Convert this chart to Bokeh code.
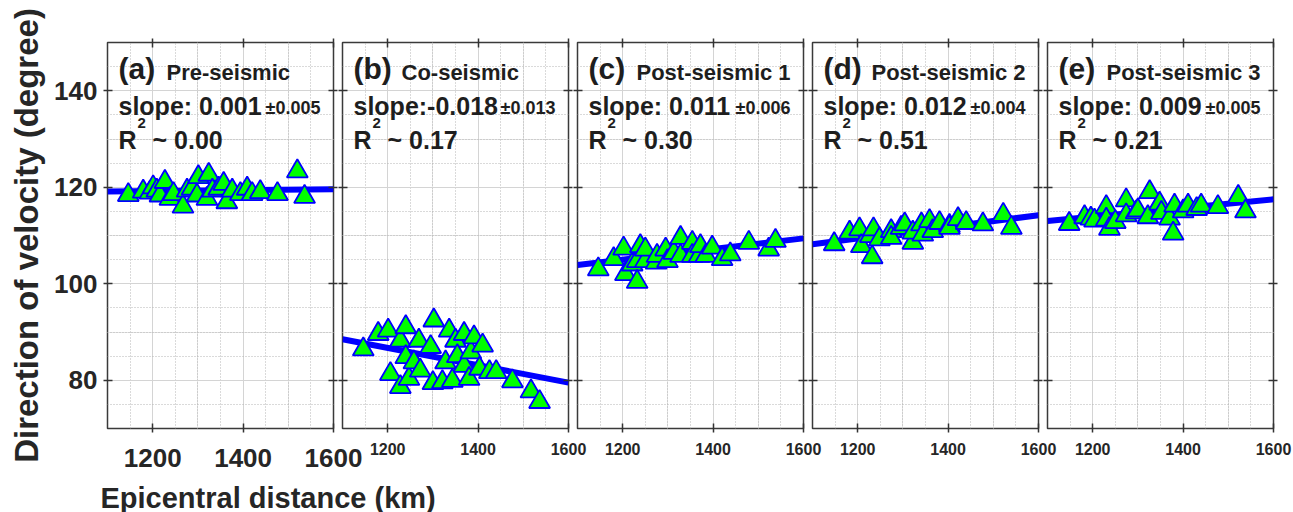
from bokeh.plotting import figure
from bokeh.layouts import row, column
from bokeh.models import FixedTicker, LinearAxis, Label, Range1d, Grid, ColumnDataSource
from bokeh.embed import file_html
from bokeh.resources import INLINE

# ---------------- data ----------------
panel_letters = ["(a)", "(b)", "(c)", "(d)", "(e)"]
panel_names = ["Pre-seismic", "Co-seismic", "Post-seismic 1", "Post-seismic 2", "Post-seismic 3"]
slope_texts = ["slope: 0.001", "slope:-0.018", "slope: 0.011", "slope: 0.012", "slope: 0.009"]
err_texts = ["\u00b10.005", "\u00b10.013", "\u00b10.006", "\u00b10.004", "\u00b10.005"]
r2_texts = ["~ 0.00", "~ 0.17", "~ 0.30", "~ 0.51", "~ 0.21"]
fit_slopes = [0.001, -0.018, 0.011, 0.012, 0.009]
fit_at_start = [119.1, 88.5, 103.9, 108.2, 113.0]

x_ticks = [1200, 1400, 1600]
y_ticks = [80, 100, 120, 140]
x_minor = [1100, 1150, 1250, 1300, 1350, 1450, 1500, 1550]
y_minor = [70, 75, 85, 90, 95, 105, 110, 115, 125, 130, 135, 145, 150]

dist_a = [1146, 1179, 1194, 1201, 1209, 1216, 1227, 1238, 1246, 1267, 1276, 1287, 1298, 1301,
          1320, 1324, 1332, 1346, 1357, 1364, 1376, 1394, 1409, 1420, 1438, 1476, 1520, 1536]
dir_a = [118.4, 119.1, 118.9, 120.0, 119.3, 118.3, 121.1, 117.6, 118.6, 116.0, 119.3, 119.7, 118.3, 122.1,
         117.6, 122.6, 119.3, 119.7, 120.7, 116.9, 119.3, 118.6, 119.7, 118.6, 119.0, 118.6, 123.3, 118.0]

dist_b = [1146, 1179, 1201, 1206, 1228, 1228, 1240, 1240, 1247, 1258, 1269, 1272, 1295, 1300, 1302,
          1321, 1328, 1336, 1343, 1350, 1354, 1369, 1369, 1380, 1384, 1391, 1403, 1410, 1425, 1440,
          1476, 1517, 1536]
dir_b = [86.4, 89.6, 90.3, 81.3, 88.2, 78.6, 91.0, 84.8, 80.3, 83.7, 88.2, 82.0, 86.9, 79.4, 92.4,
         79.6, 83.7, 90.3, 79.9, 88.2, 85.0, 89.6, 83.0, 80.3, 85.8, 88.9, 82.4, 87.2, 81.7, 81.7,
         79.8, 77.7, 75.5]

dist_c = [1146, 1180, 1202, 1206, 1221, 1232, 1232, 1239, 1250, 1250, 1274, 1276, 1295, 1299,
          1313, 1328, 1328, 1354, 1354, 1369, 1372, 1384, 1398, 1420, 1438, 1479, 1523, 1538]
dir_c = [103.0, 105.1, 107.3, 102.0, 104.0, 100.4, 104.7, 107.8, 104.7, 107.1, 104.4, 105.8, 107.1, 104.7,
         106.4, 109.5, 105.8, 108.5, 105.8, 105.8, 107.8, 105.8, 107.5, 105.1, 106.1, 108.5, 107.1, 108.9]

dist_d = [1148, 1182, 1204, 1208, 1228, 1232, 1235, 1248, 1274, 1274, 1296, 1304, 1322, 1322,
          1341, 1344, 1359, 1366, 1381, 1403, 1403, 1422, 1440, 1477, 1522, 1540]
dir_d = [108.2, 110.6, 111.3, 107.8, 109.9, 105.5, 111.3, 109.2, 110.9, 109.5, 111.6, 112.3, 108.5, 110.6,
         112.3, 110.2, 113.0, 110.9, 112.6, 112.0, 111.6, 113.4, 112.6, 112.3, 114.3, 111.6]

dist_e = [1148, 1182, 1196, 1204, 1230, 1230, 1237, 1250, 1274, 1274, 1296, 1300, 1322, 1326,
          1348, 1352, 1370, 1378, 1381, 1400, 1411, 1430, 1440, 1477, 1522, 1538]
dir_e = [112.4, 113.8, 113.5, 113.1, 115.9, 113.3, 111.4, 112.8, 117.3, 114.2, 114.8, 115.2, 113.8, 119.0,
         116.6, 114.7, 113.5, 110.4, 116.2, 115.0, 116.2, 115.5, 116.2, 115.9, 118.0, 115.0]

dists = [dist_a, dist_b, dist_c, dist_d, dist_e]
dirs = [dir_a, dir_b, dir_c, dir_d, dir_e]

# ---------------- style ----------------
FONT = "Liberation Sans"
TXT = "#1e1e1e"
X0, X1 = 1100, 1600
Y0, Y1 = 70, 150
FW, FH = 226, 386
TOP = 42
BOTTOM = 60


def px_x(px):
    return X0 + px * (X1 - X0) / FW


def px_y(px):
    return Y1 - px * (Y1 - Y0) / FH


def style_axis(ax, show, size):
    ax.axis_line_color = None
    ax.major_tick_line_color = "#333333"
    ax.major_tick_line_width = 1.5
    ax.major_tick_in = 5
    ax.major_tick_out = 4
    ax.minor_tick_line_color = None
    ax.major_label_text_font = FONT
    ax.major_label_text_font_style = "bold"
    ax.major_label_text_color = "#262626"
    if show:
        ax.major_label_text_font_size = size
    else:
        ax.major_label_text_font_size = "0px"
        ax.major_label_standoff = 0


figs = []
right_borders = [40, 22, 22, 22, 22]
for i in range(5):
    first = i == 0
    p = figure(frame_width=FW, frame_height=FH,
               x_range=Range1d(X0, X1), y_range=Range1d(Y0, Y1),
               output_backend="svg", toolbar_location=None,
               x_axis_location=None, y_axis_location=None,
               min_border_top=TOP, min_border_bottom=BOTTOM,
               min_border_left=107 if first else 4,
               min_border_right=right_borders[i])
    p.outline_line_color = "#3a3a3a"
    p.outline_line_width = 1.5
    p.background_fill_color = "white"
    if not first:
        p.border_fill_alpha = 0
        p.margin = (0, 0, 0, -(right_borders[i - 1] - 5))

    xt = FixedTicker(ticks=x_ticks, minor_ticks=x_minor)
    yt = FixedTicker(ticks=y_ticks, minor_ticks=y_minor)

    xg = Grid(dimension=0, ticker=xt, grid_line_color="#d4d4d4", grid_line_width=1,
              minor_grid_line_color="#b5b5b5", minor_grid_line_dash="1 2", minor_grid_line_width=1)
    yg = Grid(dimension=1, ticker=yt, grid_line_color="#d4d4d4", grid_line_width=1,
              minor_grid_line_color="#b5b5b5", minor_grid_line_dash="1 2", minor_grid_line_width=1)
    p.add_layout(xg)
    p.add_layout(yg)

    bottom = LinearAxis(ticker=xt)
    style_axis(bottom, True, "26px" if first else "16px")
    bottom.major_label_standoff = 16 if first else 10
    p.add_layout(bottom, "below")

    top = LinearAxis(ticker=xt)
    style_axis(top, False, None)
    p.add_layout(top, "above")

    left = LinearAxis(ticker=yt)
    style_axis(left, first, "26px")
    if first:
        left.major_label_standoff = 6
        left.axis_label = "Direction of velocity (degree)"
        left.axis_label_text_font = FONT
        left.axis_label_text_font_style = "bold"
        left.axis_label_text_font_size = "33px"
        left.axis_label_text_color = "#262626"
        left.axis_label_standoff = 6
    p.add_layout(left, "left")

    right = LinearAxis(ticker=yt)
    style_axis(right, False, None)
    p.add_layout(right, "right")

    # regression line
    fx = [X0, X1]
    fy = [fit_at_start[i], fit_at_start[i] + fit_slopes[i] * (X1 - X0)]
    p.line(fx, fy, line_color="#0000ff", line_width=6)

    src = ColumnDataSource(dict(x=dists[i], y=dirs[i]))
    p.scatter("x", "y", source=src, marker="triangle", size=21,
              fill_color="#00ff00", line_color="#0000ff", line_width=1.8)

    def lab(text, xpx, ypx, size):
        shift = 0.3 * size
        p.add_layout(Label(x=px_x(xpx), y=px_y(ypx - shift), text=text, text_font=FONT,
                           text_font_size=f"{size}px", text_font_style="bold", text_color=TXT,
                           text_align="left", text_baseline="alphabetic"))

    lab(panel_letters[i], 11, 35, 30)
    lab(panel_names[i], 59, 37, 22)
    lab(slope_texts[i], 11, 71, 25)
    lab(err_texts[i], 158, 71, 18)
    lab("R", 11, 105, 25)
    lab("2", 30, 85, 15)
    lab(r2_texts[i], 45, 105, 25)

    figs.append(p)

# x-axis title strip (overlaps the row's lower border, transparent)
t = figure(width=1293, height=54, x_range=Range1d(0, 1293), y_range=Range1d(0, 54),
           output_backend="svg", toolbar_location=None, min_border=0,
           x_axis_location=None, y_axis_location=None)
t.outline_line_color = None
t.border_fill_alpha = 0
t.background_fill_alpha = 0
t.xgrid.visible = False
t.ygrid.visible = False
t.margin = (-30, 0, 0, 0)
t.add_layout(Label(x=100, y=15, text="Epicentral distance (km)", text_font=FONT,
                   text_font_size="29px", text_font_style="bold", text_color="#262626",
                   text_align="left", text_baseline="alphabetic"))

layout = column(row(*figs), t)
open("out.html", "w").write(file_html(layout, INLINE))
